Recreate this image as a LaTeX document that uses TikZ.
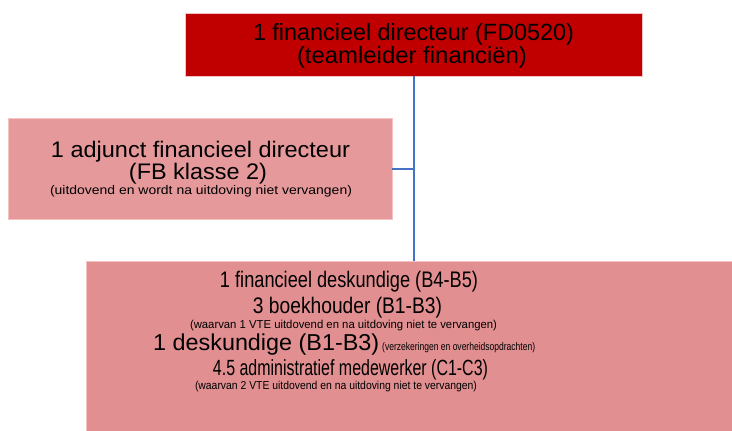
\documentclass[tikz,border=0pt]{standalone}
\usepackage{fontspec}
\setmainfont{Liberation Sans}
\usepackage{graphicx}
\definecolor{topred}{HTML}{C00000}
\definecolor{leftpink}{HTML}{E6999B}
\definecolor{botpink}{HTML}{E28F91}
\definecolor{edgecol}{HTML}{F3C2C2}
\definecolor{linkcol}{HTML}{4472C4}
\newcommand{\fitline}[3]{\resizebox{#1pt}{\height}{\fontsize{#2}{#2}\selectfont #3}}
\tikzset{
  orgbox/.style={draw=edgecol, line width=0.8pt, inner sep=0pt, rectangle},
  txt/.style={inner sep=0pt, text=black},
  link/.style={draw=linkcol, line width=2pt}
}
\begin{document}
\begin{tikzpicture}[x=1pt, y=-1pt]
\useasboundingbox (0,0) rectangle (732,431);
\begin{scope}
\clip (0,0) rectangle (732,431);
% boxes
\node[orgbox, fill=topred, minimum width=457pt, minimum height=63pt] (top) at (413.5,44.5) {};
\node[orgbox, fill=leftpink, minimum width=384pt, minimum height=101pt] (left) at (200,168.5) {};
\node[orgbox, fill=botpink, minimum width=670pt, minimum height=190pt, anchor=north west] (bot) at (86,261) {};
% connectors
\draw[link] (top.south) -- (top.south |- bot.north);
\draw[link] (left.east) -- (left.east -| top.south);
\end{scope}
% top texts
\node[txt, anchor=base] (t1) at (413.5,40) {\fitline{321}{23.5}{1 financieel directeur (FD0520)}};
\node[txt, anchor=base] (t2) at (412,63) {\fitline{230}{23.5}{(teamleider financiën)}};
% left texts
\node[txt, anchor=base] (l1) at (200.5,157) {\fitline{299}{22.5}{1 adjunct financieel directeur}};
\node[txt, anchor=base] (l2) at (198,179) {\fitline{138}{22.5}{(FB klasse 2)}};
\node[txt, anchor=base] (l3) at (201,194.5) {\fitline{302}{12.5}{(uitdovend en wordt na uitdoving niet vervangen)}};
% bottom texts
\node[txt, anchor=base] (b1) at (349,287) {\fitline{258}{22.5}{1 financieel deskundige (B4-B5)}};
\node[txt, anchor=base] (b2) at (347.5,313) {\fitline{189}{22.5}{3 boekhouder (B1-B3)}};
\node[txt, anchor=base] (b3) at (343.5,328) {\fitline{307}{11.5}{(waarvan 1 VTE uitdovend en na uitdoving niet te vervangen)}};
\node[txt, anchor=base west] (b4) at (153,350) {\fitline{226}{23}{1 deskundige (B1-B3)}};
\node[txt, anchor=base west] (b5) at (382,350) {\fitline{153}{11}{(verzekeringen en overheidsopdrachten)}};
\node[txt, anchor=base] (b6) at (350.5,375) {\fitline{275}{22}{4.5 administratief medewerker (C1-C3)}};
\node[txt, anchor=base] (b7) at (336,389) {\fitline{282}{11.5}{(waarvan 2 VTE uitdovend en na uitdoving niet te vervangen)}};
\end{tikzpicture}
\end{document}
